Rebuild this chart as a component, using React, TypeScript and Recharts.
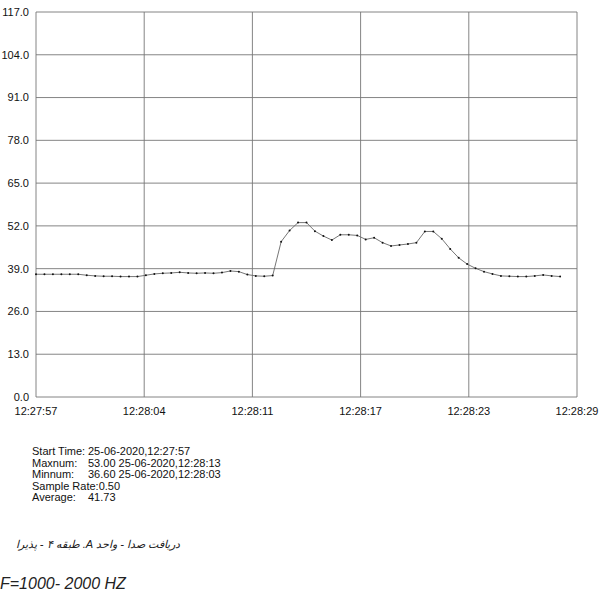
import { LineChart, Line, XAxis, YAxis, CartesianGrid } from "recharts"

// one sample every 0.5 s, starting 12:27:57
const levels = [
  37.3, 37.3, 37.3, 37.3, 37.3, 37.3, 37.0, 36.8, 36.7, 36.7,
  36.6, 36.6, 36.6, 37.0, 37.4, 37.6, 37.7, 37.9, 37.7, 37.6,
  37.7, 37.6, 37.8, 38.3, 38.1, 37.2, 36.8, 36.7, 36.9, 47.2,
  50.6, 53.0, 53.0, 50.4, 48.9, 47.7, 49.3, 49.3, 49.1, 47.9,
  48.4, 46.9, 45.9, 46.2, 46.5, 46.9, 50.3, 50.3, 48.1, 45.0,
  42.3, 40.4, 39.1, 38.1, 37.4, 36.8, 36.7, 36.6, 36.6, 36.8,
  37.1, 36.8, 36.6,
]
const xTickLabels = ["12:27:57", "12:28:04", "12:28:11", "12:28:17", "12:28:23", "12:28:29"]
const yTicks = [0, 13, 26, 39, 52, 65, 78, 91, 104, 117]
const xMax = 64

const summary = [
  ["Start Time:", "25-06-2020,12:27:57"],
  ["Maxnum:", "53.00 25-06-2020,12:28:13"],
  ["Minnum:", "36.60 25-06-2020,12:28:03"],
  ["Sample Rate:", "0.50"],
  ["Average:", "41.73"],
]

const data = levels.map((v, i) => ({ t: i, v }))
const xTicks = xTickLabels.map((_, i) => (i * xMax) / (xTickLabels.length - 1))
const font = '"Liberation Sans", Arial, sans-serif'

export default function App() {
  return (
    <div style={{ position: "fixed", left: 0, top: 0, width: 600, height: 600, background: "#fff", fontFamily: font, overflow: "hidden" }}>
      <LineChart width={600} height={430} data={data} margin={{ top: 12, right: 23, left: 0, bottom: 6 }}>
        <CartesianGrid stroke="#777" strokeWidth={0.9} />
        <XAxis
          dataKey="t"
          type="number"
          domain={[0, xMax]}
          ticks={xTicks}
          interval={0}
          tickFormatter={(_v, i) => xTickLabels[i]}
          axisLine={false}
          tickLine={false}
          tickMargin={4}
          height={27}
          tick={{ fontSize: 11, fill: "#111", fontFamily: font }}
        />
        <YAxis
          type="number"
          domain={[0, 117]}
          ticks={yTicks}
          interval={0}
          tickFormatter={(v) => Number(v).toFixed(1)}
          axisLine={false}
          tickLine={false}
          tickMargin={1}
          width={36}
          tick={{ fontSize: 11, fill: "#111", fontFamily: font }}
        />
        <Line
          type="linear"
          dataKey="v"
          stroke="#666"
          strokeWidth={0.9}
          dot={{ r: 1, fill: "#111", stroke: "none" }}
          isAnimationActive={false}
        />
      </LineChart>
      <div style={{ position: "absolute", left: 32, top: 446, fontSize: 11, lineHeight: "11.6px", color: "#111" }}>
        {summary.map(([k, v]) => (
          <div key={k} style={{ whiteSpace: "nowrap" }}>
            <span style={{ display: "inline-block", minWidth: 56 }}>{k}</span>
            <span>{v}</span>
          </div>
        ))}
      </div>
      <div style={{ position: "absolute", left: 4, width: 176, top: 538, fontSize: 11, fontStyle: "italic", color: "#222", direction: "rtl", textAlign: "right", whiteSpace: "nowrap" }}>
        دریافت صدا - واحد A. طبقه ۴ - پذیرا
      </div>
      <div style={{ position: "absolute", left: 0, top: 575, fontSize: 16, fontStyle: "italic", color: "#222", whiteSpace: "nowrap" }}>
        F=1000- 2000 HZ
      </div>
    </div>
  )
}
